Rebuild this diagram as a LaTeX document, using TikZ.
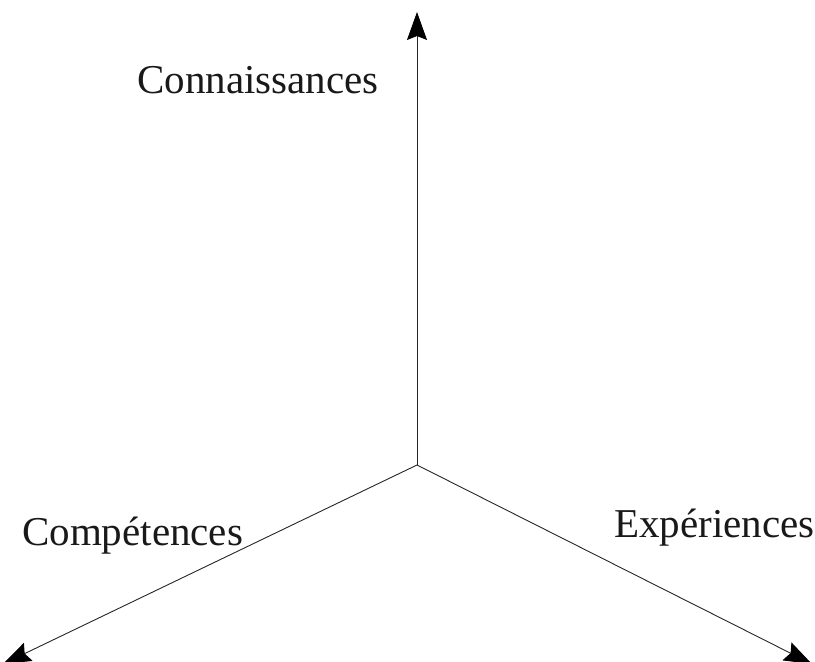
\documentclass[tikz,border=0pt]{standalone}
\usepackage{fontspec}
\setmainfont{Liberation Serif}
\usetikzlibrary{arrows.meta}
\begin{document}
\begin{tikzpicture}[x=1pt,y=-1pt,
  axis/.style={line width=0.9pt,draw=black!85,-{Stealth[length=28pt,width=20pt,inset=4pt,black]}},
  lbl/.style={anchor=base west,inner sep=0pt,text=black!90,font=\fontsize{41}{43}\selectfont}]
\useasboundingbox (0,0) rectangle (815,662);
\coordinate (o) at (417,465);
\coordinate (top) at (417,12);
\coordinate (left) at (3,664);
\coordinate (right) at (812,664);
\draw[axis] (o) -- (top);
\draw[axis] (o) -- (left);
\draw[axis] (o) -- (right);
\node[lbl] (con) at (137,93) {Connaissances};
\node[lbl] (com) at (22,545) {Compétences};
\node[lbl] (exp) at (614,537) {Expériences};
\end{tikzpicture}
\end{document}
